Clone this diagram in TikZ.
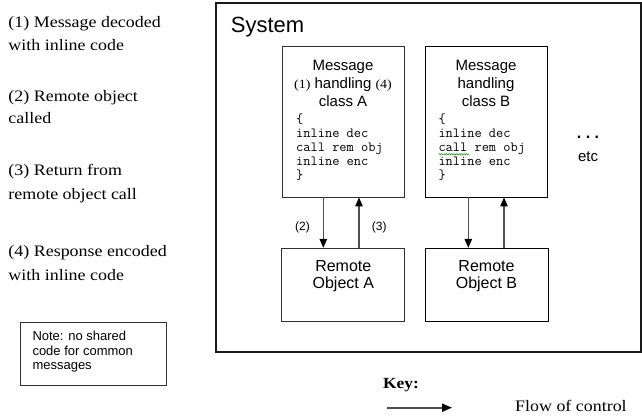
\documentclass[tikz,border=0pt]{standalone}
\usepackage{fontspec}
\setmainfont{Liberation Serif}
\setsansfont{Liberation Sans}
\newfontfamily\palfont{Liberation Serif}[FakeStretch=1.12]
\usetikzlibrary{arrows.meta,decorations.pathmorphing}
\definecolor{boxline}{HTML}{303030}
\definecolor{arrowline}{HTML}{505050}
\tikzset{
  sysbox/.style={draw=black!90, line width=2pt},
  box/.style={draw=boxline, line width=0.9pt},
  lefttext/.style={anchor=base west, inner sep=0pt, font=\palfont\fontsize{16}{22}\selectfont},
  boxtitle/.style={anchor=base, inner sep=0pt, font=\sffamily\fontsize{15}{18}\selectfont},
  remtitle/.style={anchor=base, inner sep=0pt, font=\sffamily\fontsize{16}{18}\selectfont},
  codeline/.style={anchor=base west, inner sep=0pt, font=\ttfamily\addfontfeatures{FakeStretch=1.06,FakeBold=0.8}\fontsize{14}{14}\selectfont},
  steplabel/.style={anchor=base, inner sep=0pt, font=\sffamily\fontsize{12}{14}\selectfont},
  flow/.style={draw=arrowline, line width=1.3pt, -{Triangle[length=9pt,width=7.5pt,color=black]}},
  keyflow/.style={draw=arrowline, line width=2pt, -{Triangle[length=10pt,width=8pt,color=black]}},
  notetext/.style={anchor=base west, inner sep=0pt, font=\sffamily\fontsize{13}{14.5}\selectfont},
}
\newcommand{\smallnum}[1]{{\palfont\fontsize{12.5}{14}\selectfont(#1)}}
\begin{document}
\begin{tikzpicture}[x=1pt,y=-1pt]
\useasboundingbox (0,0) rectangle (642,415);
\fill[white] (0,0) rectangle (642,415);

% left legend texts
\node[lefttext] (t1a) at (8.3,27.5) {(1) Message decoded};
\node[lefttext] (t1b) at (8.3,50) {with inline code};
\node[lefttext] (t2a) at (8.3,101.7) {(2) Remote object};
\node[lefttext] (t2b) at (8.3,123.5) {called};
\node[lefttext] (t3a) at (8.3,175.7) {(3) Return from};
\node[lefttext] (t3b) at (8.3,199) {remote object call};
\node[lefttext] (t4a) at (8.3,256.7) {(4) Response encoded};
\node[lefttext] (t4b) at (8.3,280) {with inline code};

% note
\node[box, minimum width=146pt, minimum height=62.7pt, inner sep=0pt] (note) at (93,353.6) {};
\node[notetext] (n1) at (32.3,340.7) {Note: no shared};
\node[notetext] (n2) at (32.3,355.2) {code for common};
\node[notetext] (n3) at (32.3,369.7) {messages};

% system
\node[sysbox, minimum width=424.7pt, minimum height=348.7pt, inner sep=0pt] (sys) at (428.3,177.3) {};
\node[anchor=base west, inner sep=0pt, font=\sffamily\fontsize{22}{24}\selectfont] (systitle) at (230.7,32.3) {System};

% message handling class A
\node[box, minimum width=122pt, minimum height=151pt, inner sep=0pt] (msgA) at (343,121.5) {};
\node[boxtitle] (mA1) at (343,70.7) {Message};
\node[boxtitle] (mA2) at (343,88.3) {\smallnum{1} handling \smallnum{4}};
\node[boxtitle] (mA3) at (343,106.7) {class A};
\node[codeline] (cA1) at (296,123.3) {\{};
\node[codeline] (cA2) at (296,137.3) {inline dec};
\node[codeline] (cA3) at (296,151.3) {call rem obj};
\node[codeline] (cA4) at (296,165.3) {inline enc};
\node[codeline] (cA5) at (296,179.3) {\}};

% message handling class B
\node[box, draw=black, minimum width=122pt, minimum height=151pt, inner sep=0pt] (msgB) at (486,121.5) {};
\node[boxtitle] (mB1) at (486,70.7) {Message};
\node[boxtitle] (mB2) at (486,88.3) {handling};
\node[boxtitle] (mB3) at (486,106.7) {class B};
\node[codeline] (cB1) at (438.3,123.3) {\{};
\node[codeline] (cB2) at (438.3,137.3) {inline dec};
\node[codeline] (cB3) at (438.3,151.3) {call rem obj};
\node[codeline] (cB4) at (438.3,165.3) {inline enc};
\node[codeline] (cB5) at (438.3,179.3) {\}};
\draw[green!60!black, line width=0.5pt, decorate, decoration={snake, amplitude=0.7pt, segment length=2.5pt}]
  ([yshift=-3pt]cB3.base west) -- ++(31,0);

% remote objects
\node[box, minimum width=123pt, minimum height=73.4pt, inner sep=0pt] (remA) at (343.3,285) {};
\node[remtitle] (rA1) at (343.3,271.7) {Remote};
\node[remtitle] (rA2) at (343.3,288.5) {Object A};
\node[box, draw=black, minimum width=123pt, minimum height=73.4pt, inner sep=0pt] (remB) at (486.5,285) {};
\node[remtitle] (rB1) at (486.5,271.7) {Remote};
\node[remtitle] (rB2) at (486.5,288.5) {Object B};

% flow arrows
\draw[flow] ([xshift=-19.7pt]msgA.south) -- ([xshift=-20pt]remA.north);
\draw[flow] ([xshift=15.7pt]remA.north) -- ([xshift=16pt]msgA.south);
\draw[flow] ([xshift=-17.7pt]msgB.south) -- ([xshift=-18.2pt]remB.north);
\draw[flow] ([xshift=17.5pt]remB.north) -- ([xshift=18pt]msgB.south);
\node[steplabel] (s2) at (302.5,230.3) {(2)};
\node[steplabel] (s3) at (379.2,230.3) {(3)};

% etc
\node[anchor=base, inner sep=0pt, font=\sffamily\bfseries\fontsize{16}{16}\selectfont] (dots) at (588,138.5) {.\hspace{4.5pt}.\hspace{4.5pt}.};
\node[anchor=base, inner sep=0pt, font=\sffamily\fontsize{15}{16}\selectfont] (etc) at (588,161.7) {etc};

% key
\node[anchor=base west, inner sep=0pt, font=\palfont\bfseries\fontsize{15.5}{18}\selectfont] (key) at (383,388.3) {Key:};
\coordinate (kstart) at (386.7,407.7);
\coordinate (kend) at (452,407.7);
\draw[keyflow] (kstart) -- (kend);
\node[anchor=base west, inner sep=0pt, font=\palfont\fontsize{16}{18}\selectfont] (flowtxt) at (515,411) {Flow of control};
\end{tikzpicture}
\end{document}
